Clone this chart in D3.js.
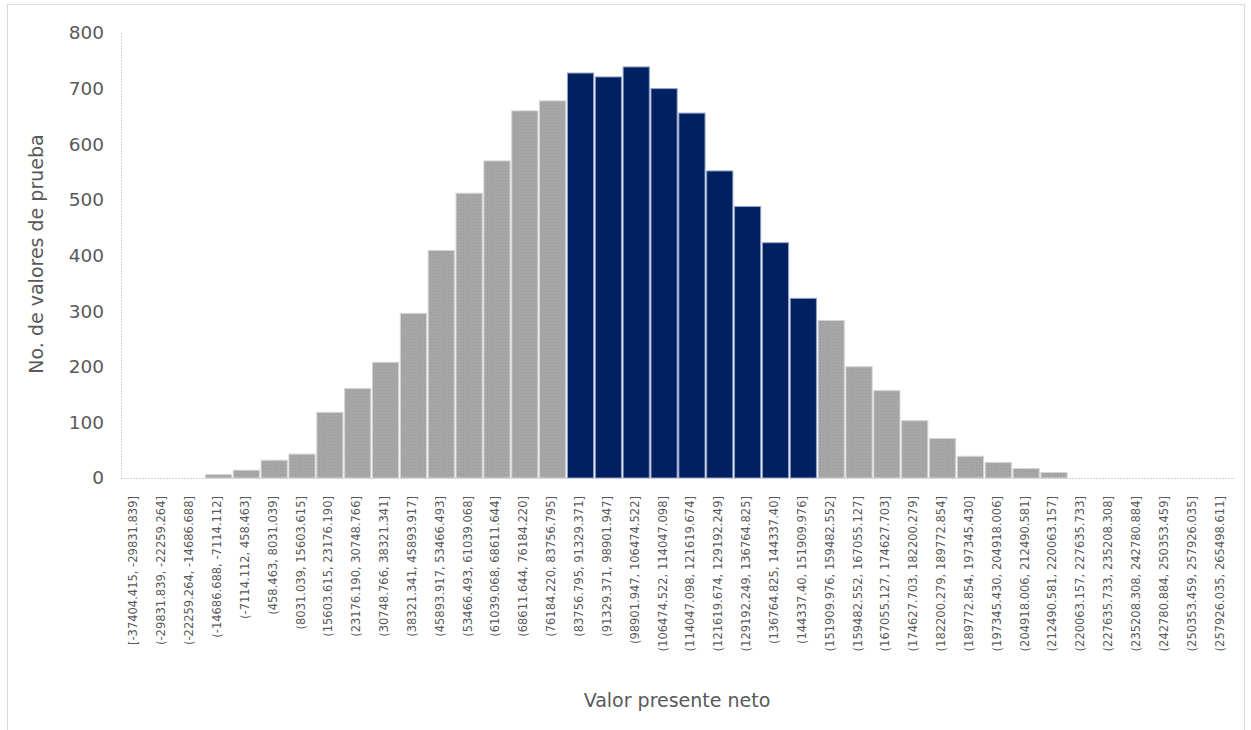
<!DOCTYPE html>
<html>
<head>
<meta charset="utf-8">
<script src="https://cdn.jsdelivr.net/npm/d3@7"></script>
<style>
  html, body { margin: 0; padding: 0; background: #fff; }
  svg { display: block; }
</style>
</head>
<body>
<svg id="chart" width="1251" height="730"></svg>
<script>
// Histogram of net present value trial outcomes
const bins = [
  "[-37404.415, -29831.839]", "(-29831.839, -22259.264]", "(-22259.264, -14686.688]",
  "(-14686.688, -7114.112]", "(-7114.112, 458.463]", "(458.463, 8031.039]",
  "(8031.039, 15603.615]", "(15603.615, 23176.190]", "(23176.190, 30748.766]",
  "(30748.766, 38321.341]", "(38321.341, 45893.917]", "(45893.917, 53466.493]",
  "(53466.493, 61039.068]", "(61039.068, 68611.644]", "(68611.644, 76184.220]",
  "(76184.220, 83756.795]", "(83756.795, 91329.371]", "(91329.371, 98901.947]",
  "(98901.947, 106474.522]", "(106474.522, 114047.098]", "(114047.098, 121619.674]",
  "(121619.674, 129192.249]", "(129192.249, 136764.825]", "(136764.825, 144337.40]",
  "(144337.40, 151909.976]", "(151909.976, 159482.552]", "(159482.552, 167055.127]",
  "(167055.127, 174627.703]", "(174627.703, 182200.279]", "(182200.279, 189772.854]",
  "(189772.854, 197345.430]", "(197345.430, 204918.006]", "(204918.006, 212490.581]",
  "(212490.581, 220063.157]", "(220063.157, 227635.733]", "(227635.733, 235208.308]",
  "(235208.308, 242780.884]", "(242780.884, 250353.459]", "(250353.459, 257926.035]",
  "(257926.035, 265498.611]"
];

const counts = [
  0, 0, 0, 6, 14, 32, 43, 118, 161, 208,
  296, 409, 512, 570, 660, 678, 728, 721, 739, 700,
  656, 552, 488, 423, 323, 283, 200, 157, 103, 71,
  39, 28, 17, 10, 0, 0, 0, 0, 0, 0
];

// Bins falling inside the highlighted range
const highlighted = [
  "(83756.795, 91329.371]", "(91329.371, 98901.947]", "(98901.947, 106474.522]",
  "(106474.522, 114047.098]", "(114047.098, 121619.674]", "(121619.674, 129192.249]",
  "(129192.249, 136764.825]", "(136764.825, 144337.40]", "(144337.40, 151909.976]"
];

const yTicks = [0, 100, 200, 300, 400, 500, 600, 700, 800];

const svg = d3.select("#chart");
const W = 1251, H = 730;
const margin = { left: 121, right: 16, top: 33, bottom: 252 };
const plotW = W - margin.left - margin.right;
const plotH = H - margin.top - margin.bottom;

// Outer chart frame
svg.append("rect")
  .attr("x", 7.5).attr("y", 4.5)
  .attr("width", 1237).attr("height", 730)
  .attr("fill", "#fff").attr("stroke", "#d9d9d9").attr("stroke-width", 1);

// Dotted fill for the regular bars
const defs = svg.append("defs");
const pat = defs.append("pattern")
  .attr("id", "dots").attr("patternUnits", "userSpaceOnUse")
  .attr("width", 3).attr("height", 3);
pat.append("rect").attr("width", 3).attr("height", 3).attr("fill", "#a9a9a9");
pat.append("rect").attr("x", 0).attr("y", 0).attr("width", 1).attr("height", 1).attr("fill", "#959595");
pat.append("rect").attr("x", 1.5).attr("y", 1.5).attr("width", 1).attr("height", 1).attr("fill", "#989898");

const g = svg.append("g").attr("transform", `translate(${margin.left},${margin.top})`);

const x = d3.scaleBand().domain(bins).range([0, plotW]).paddingInner(0.06).paddingOuter(0.03);
const y = d3.scaleLinear().domain([0, 800]).range([plotH, 0]);

// Y axis: labels only, with a dashed light axis line
const yAxis = g.append("g").call(d3.axisLeft(y).tickValues(yTicks).tickSize(0).tickPadding(17));
yAxis.select(".domain").remove();
yAxis.selectAll("text")
  .attr("font-family", "DejaVu Sans, sans-serif")
  .attr("font-size", 18.5)
  .attr("fill", "#595959");

g.append("line")
  .attr("x1", 0.5).attr("x2", 0.5).attr("y1", 0).attr("y2", plotH)
  .attr("stroke", "#d0d0d0").attr("stroke-dasharray", "2,1");

// Bars
g.selectAll("rect.bar")
  .data(bins.map((b, i) => ({ bin: b, value: counts[i] })))
  .join("rect")
  .attr("class", "bar")
  .attr("x", d => x(d.bin))
  .attr("y", d => y(d.value))
  .attr("width", x.bandwidth())
  .attr("height", d => plotH - y(d.value))
  .attr("fill", d => highlighted.includes(d.bin) ? "#002060" : "url(#dots)")
  .attr("stroke", d => highlighted.includes(d.bin) ? "#8fa2c9" : "#d4d4d4")
  .attr("stroke-width", d => d.value > 0 ? 1 : 0);

// X axis baseline
g.append("line")
  .attr("x1", 0).attr("x2", plotW).attr("y1", plotH + 0.5).attr("y2", plotH + 0.5)
  .attr("stroke", "#d0d0d0").attr("stroke-dasharray", "2,1");

// Rotated bin labels
const xAxis = g.append("g").attr("transform", `translate(0,${plotH})`)
  .call(d3.axisBottom(x).tickSize(0).tickPadding(0));
xAxis.select(".domain").remove();
xAxis.selectAll("text")
  .attr("font-family", "DejaVu Sans Condensed, DejaVu Sans, sans-serif")
  .attr("font-size", 12.8)
  .attr("fill", "#595959")
  .attr("text-anchor", "end")
  .attr("dy", "0.35em")
  .attr("transform", "translate(-2,18) rotate(-90)");

// Axis titles
svg.append("text")
  .attr("x", 677).attr("y", 707)
  .attr("text-anchor", "middle")
  .attr("font-family", "DejaVu Sans, sans-serif")
  .attr("font-size", 19)
  .attr("fill", "#595959")
  .text("Valor presente neto");

svg.append("text")
  .attr("transform", "translate(43,254) rotate(-90)")
  .attr("text-anchor", "middle")
  .attr("font-family", "DejaVu Sans, sans-serif")
  .attr("font-size", 19)
  .attr("fill", "#595959")
  .text("No. de valores de prueba");
</script>
</body>
</html>
